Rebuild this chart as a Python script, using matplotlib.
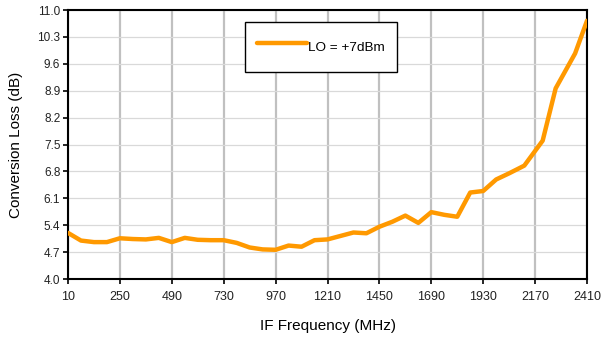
import numpy as np
import matplotlib
matplotlib.use("Agg")
import matplotlib.pyplot as plt

plt.rcParams['font.family'] = ['Liberation Sans', 'DejaVu Sans']

# IF frequency (MHz) and conversion loss (dB) at LO = +7 dBm
freq_mhz = [10, 70, 130, 190, 250, 310, 370, 430, 490, 550, 610, 670, 730,
            790, 850, 910, 970, 1030, 1090, 1150, 1210, 1270, 1330, 1390,
            1450, 1510, 1570, 1630, 1690, 1750, 1810, 1870, 1930, 1990,
            2050, 2120, 2205, 2265, 2355, 2410]
conv_loss_db = [5.20, 5.00, 4.96, 4.96, 5.06, 5.04, 5.03, 5.07, 4.96, 5.07,
                5.02, 5.01, 5.01, 4.94, 4.82, 4.77, 4.76, 4.87, 4.84, 5.01,
                5.03, 5.12, 5.21, 5.19, 5.36, 5.49, 5.65, 5.46, 5.74, 5.67,
                5.62, 6.25, 6.29, 6.59, 6.75, 6.95, 7.60, 8.96, 9.87, 10.72]
series_label = "LO = +7dBm"

x_ticks = np.arange(10, 2411, 240)
y_ticks = np.round(np.arange(4.0, 11.01, 0.7), 1)

fig = plt.figure(figsize=(6.03, 3.37), dpi=100)
ax = fig.add_axes([68 / 603, 1 - 279 / 337, 519 / 603, 269 / 337])

ax.plot(freq_mhz, conv_loss_db, color="#FF9900", lw=3.2,
        solid_capstyle="round", solid_joinstyle="round",
        label=series_label, zorder=3)

ax.set_xlim(10, 2410)
ax.set_ylim(4.0, 11.0)
ax.set_xticks(x_ticks)
ax.set_yticks(y_ticks)
ax.set_xticklabels([str(v) for v in x_ticks], fontsize=9)
ax.set_yticklabels([f"{v:.1f}" for v in y_ticks], fontsize=8.5)

ax.xaxis.grid(True, color="#c0c0c0", lw=1.6, zorder=0)
ax.yaxis.grid(True, color="#d9d9d9", lw=0.9, zorder=0)
ax.set_axisbelow(True)

for sp in ax.spines.values():
    sp.set_color("black")
    sp.set_linewidth(1.5)
ax.tick_params(direction="out", length=3.5, width=1.2, color="black",
               labelcolor="#222222")
ax.tick_params(axis="x", pad=5)
ax.tick_params(axis="y", pad=2)

ax.set_xlabel("IF Frequency (MHz)", fontsize=11, labelpad=12)
ax.set_ylabel("Conversion Loss (dB)", fontsize=11, labelpad=10)

leg = ax.legend(loc="upper left", bbox_to_anchor=(0.341, 0.955),
                borderaxespad=0, fancybox=False, fontsize=9.7,
                handlelength=3.7, handletextpad=0.1, borderpad=0.9,
                handleheight=2.5, framealpha=1)
leg.get_frame().set_edgecolor("black")
leg.get_frame().set_linewidth(1.0)

fig.savefig("out.png", dpi=100)
